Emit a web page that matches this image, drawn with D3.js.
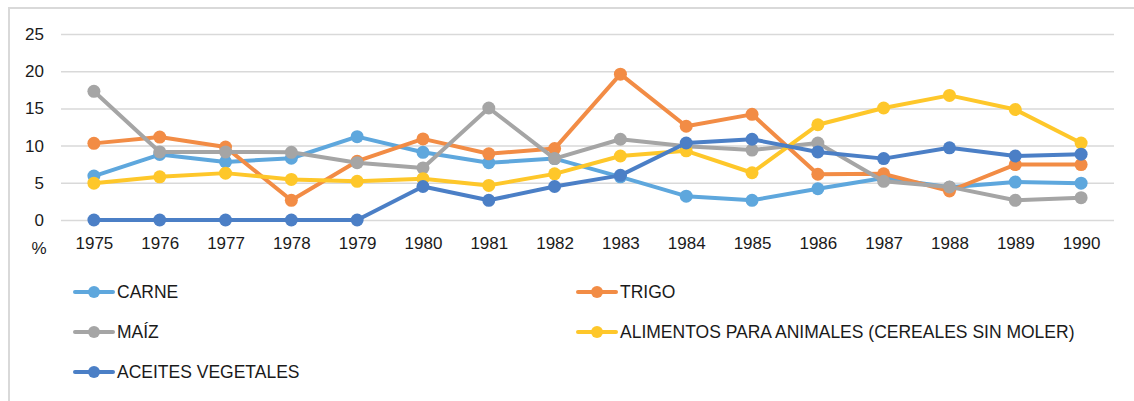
<!DOCTYPE html>
<html>
<head>
<meta charset="utf-8">
<script src="https://cdn.jsdelivr.net/npm/d3@7"></script>
<style>
  body { margin: 0; background: #fff; }
  svg text { fill: #1a1a1a; }
</style>
</head>
<body>
<svg id="chart"></svg>
<script>
// Years on the x-axis
const years = ['1975','1976','1977','1978','1979','1980','1981','1982',
  '1983','1984','1985','1986','1987','1988','1989','1990'];

// Series values (%)
const carne    = [5.9, 8.8, 7.8, 8.3, 11.2, 9.1, 7.7, 8.25, 5.8, 3.2, 2.65, 4.2, 5.65, 4.4, 5.1, 4.95];
const trigo    = [10.3, 11.15, 9.8, 2.65, 7.9, 10.9, 8.9, 9.6, 19.6, 12.6, 14.2, 6.15, 6.2, 3.9, 7.45, 7.45];
const maiz     = [17.3, 9.15, 9.15, 9.1, 7.7, 7.0, 15.05, 8.25, 10.85, 9.9, 9.4, 10.35, 5.2, 4.45, 2.65, 3.0];
const alimentos = [4.95, 5.8, 6.3, 5.45, 5.2, 5.55, 4.65, 6.2, 8.6, 9.3, 6.35, 12.8, 15.05, 16.75, 14.85, 10.35];
const aceites  = [0, 0, 0, 0, 0, 4.5, 2.65, 4.5, 6.0, 10.35, 10.85, 9.15, 8.25, 9.7, 8.6, 8.85];

const yTicks = [0, 5, 10, 15, 20, 25];

const seriesNames = ['CARNE', 'TRIGO', 'MAÍZ', 'ALIMENTOS PARA ANIMALES (CEREALES SIN MOLER)', 'ACEITES VEGETALES'];
const seriesValues = [carne, trigo, maiz, alimentos, aceites];
const seriesColors = ['#5ea7dd', '#f28c45', '#a5a5a5', '#fec72a', '#4b7fc6'];

const W = 1134, H = 401;
const margin = {top: 34, right: 20, bottom: 181, left: 61};
const width = 1114 - margin.left;
const height = 220 - margin.top;
const fontFam = '"Liberation Sans", Arial, sans-serif';

const svg = d3.select('#chart').attr('width', W).attr('height', H);

// Chart frame (top and left edges visible)
svg.append('path')
  .attr('d', `M9,${H} L9,8 L${W},8`)
  .attr('fill', 'none')
  .attr('stroke', '#d9d9d9')
  .attr('stroke-width', 2);

const chart = svg.append('g')
  .attr('transform', `translate(${margin.left},${margin.top})`);

const xScale = d3.scalePoint()
  .domain(years)
  .range([0, width])
  .padding(0.5);

const yScale = d3.scaleLinear()
  .domain([0, 25])
  .range([height, 0]);

// Gridlines + y labels
const yAxis = d3.axisLeft(yScale)
  .tickValues(yTicks)
  .tickSize(-width)
  .tickPadding(17);

chart.append('g')
  .attr('class', 'axis y-axis')
  .call(yAxis)
  .attr('font-family', fontFam)
  .attr('font-size', 17)
  .call(g => g.select('.domain').remove())
  .call(g => g.selectAll('.tick line').attr('stroke', '#d9d9d9').attr('stroke-width', 1.5))
  .call(g => g.selectAll('.tick text').attr('fill', '#1a1a1a'));

// X labels
const xAxis = d3.axisBottom(xScale).tickSize(0).tickPadding(17);
chart.append('g')
  .attr('class', 'axis x-axis')
  .attr('transform', `translate(0,${height})`)
  .call(xAxis)
  .attr('font-family', fontFam)
  .attr('font-size', 17)
  .call(g => g.select('.domain').remove())
  .call(g => g.selectAll('.tick text').attr('fill', '#1a1a1a'));

// Unit label
svg.append('text')
  .attr('x', 39)
  .attr('y', 254)
  .attr('text-anchor', 'middle')
  .attr('font-family', fontFam)
  .attr('font-size', 17)
  .text('%');

const line = d3.line()
  .x((d, i) => xScale(years[i]))
  .y(d => yScale(d));

seriesValues.forEach((vals, s) => {
  chart.append('path')
    .datum(vals)
    .attr('fill', 'none')
    .attr('stroke', seriesColors[s])
    .attr('stroke-width', 4)
    .attr('stroke-linejoin', 'round')
    .attr('d', line);
  chart.selectAll(`.dot-${s}`)
    .data(vals)
    .join('circle')
    .attr('class', `dot-${s}`)
    .attr('cx', (d, i) => xScale(years[i]))
    .attr('cy', d => yScale(d))
    .attr('r', 6.5)
    .attr('fill', seriesColors[s]);
});

// Legend: two columns, three rows
const legend = svg.append('g')
  .attr('font-family', fontFam)
  .attr('font-size', 17.5);
seriesNames.forEach((name, s) => {
  const col = s % 2, row = Math.floor(s / 2);
  const lx = col === 0 ? 75 : 578;
  const ly = 292 + row * 40;
  const g = legend.append('g').attr('transform', `translate(${lx},${ly})`);
  g.append('line')
    .attr('x1', 0).attr('x2', 38)
    .attr('stroke', seriesColors[s])
    .attr('stroke-width', 4)
    .attr('stroke-linecap', 'round');
  g.append('circle')
    .attr('cx', 19).attr('r', 6)
    .attr('fill', seriesColors[s]);
  g.append('text')
    .attr('x', 42)
    .attr('dy', '0.35em')
    .text(name);
});
</script>
</body>
</html>
